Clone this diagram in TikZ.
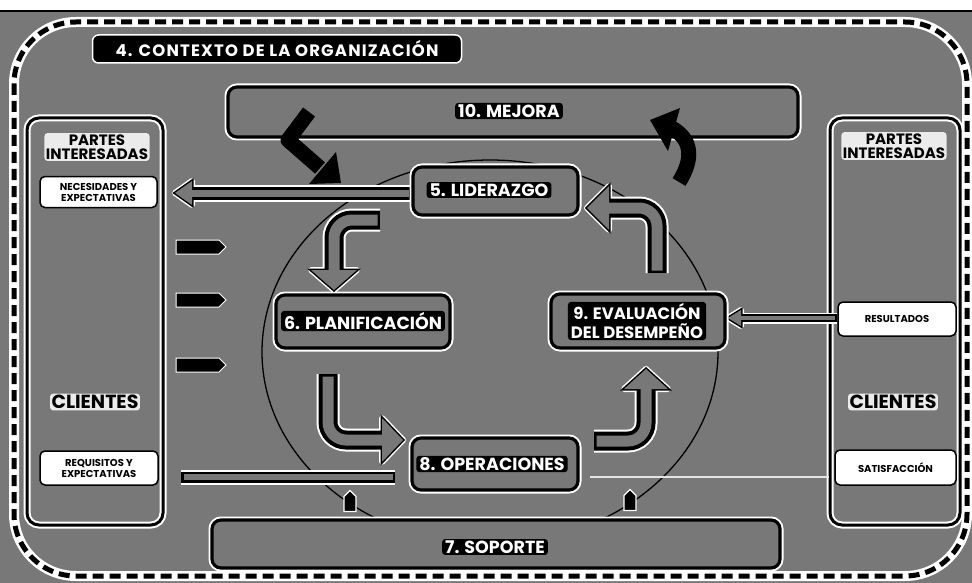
\documentclass[tikz,border=0pt]{standalone}
\usepackage{fontspec}
\setmainfont{Poppins}
\usetikzlibrary{calc,shapes.symbols}
\definecolor{field}{gray}{0.47}

% three-layer hollow arrow: halo, border, body
% #1 halo width, #2 border width, #3 body width, #4 shaft path, #5 head polygon
\newcommand\hollowarrow[5]{%
  \draw[white, line width=#1, rounded corners=18pt] #4;
  \filldraw[white, line width=6pt, line join=round] #5;
  \draw[black, line width=#2, rounded corners=18pt] #4;
  \filldraw[black, line width=3pt, line join=miter] #5;
  \draw[field, line width=#3, rounded corners=18pt, shorten <=2.5pt] #4;
  \fill[field] #5;
}

\tikzset{
  stagebox/.style={draw=black, line width=3.2pt, fill=field, rounded corners=9pt,
    preaction={draw=white, line width=7pt}},
  stagelabel/.style={fill=black, text=white, rounded corners=3pt, inner xsep=3pt,
    inner ysep=1.5pt, align=center, font=\bfseries\fontsize{17.5}{19}\selectfont},
  panel/.style={draw=black, line width=3pt, rounded corners=12pt,
    preaction={draw=white, line width=7pt}},
  notebox/.style={fill=white, draw=black, line width=1.5pt, rounded corners=5pt,
    align=center, font=\bfseries\fontsize{10}{11}\selectfont, inner sep=2pt},
  paneltitle/.style={text=black, fill=white!85!field, rounded corners=3pt, inner sep=1.5pt,
    align=center, font=\bfseries\fontsize{15}{18}\selectfont},
  clientetitle/.style={text=black, fill=white!85!field, rounded corners=3pt, inner sep=1.5pt,
    font=\bfseries\fontsize{19}{20}\selectfont},
  inputtag/.style={signal, signal to=east, fill=black, draw=white, line width=1pt,
    minimum width=50pt, minimum height=14pt, inner sep=0pt},
  uptag/.style={signal, signal to=north, fill=black, draw=white, line width=1.2pt,
    minimum width=12pt, minimum height=15pt, inner sep=0pt},
  solidarrow/.style={black, line width=15pt, line join=round},
}

\begin{document}
\begin{tikzpicture}[x=1pt, y=-1pt]
\useasboundingbox (0,0) rectangle (972,583);

% paper and printed field
\fill[white] (0,0) rectangle (972,583);
\fill[field] (0,11) rectangle (972,583);
\draw[black, line width=1.5pt] (0,11) -- (972,11);

% dashed outer frame of the organisation context
\draw[white, line width=10pt, rounded corners=62pt] (14,22) rectangle (967,576);
\draw[black, line width=5pt, dash pattern=on 11pt off 6pt, rounded corners=62pt] (14,22) rectangle (967,576);

% cycle guide ellipse
\draw[black, line width=1.3pt] (490,352) ellipse [x radius=228, y radius=192];

% context banner
\node[fill=black, text=white, rounded corners=6pt, draw=white, line width=1.5pt,
  minimum width=369pt, minimum height=28pt,
  font=\bfseries\fontsize{16.5}{17}\selectfont\addfontfeature{LetterSpace=7}]
  (ctx) at (277,49) {4. CONTEXTO DE LA ORGANIZACIÓN};

% improvement and support bands
\node[stagebox, minimum width=570pt, minimum height=50pt] (mej) at (513,112) {};
\node[stagelabel] (mejtxt) at (509,111) {10. MEJORA};
\node[stagebox, minimum width=568pt, minimum height=48pt] (sop) at (496,544) {};
\node[stagelabel] (soptxt) at (495,547) {7. SOPORTE};

% side panels
\node[panel, minimum width=136pt, minimum height=407pt] (left) at (95,321.5) {};
\node[panel, minimum width=130pt, minimum height=407pt] (right) at (895,321.5) {};

\node[paneltitle] (lpi) at (97,147) {PARTES\\[-4pt]INTERESADAS};
\node[notebox, minimum width=117pt, minimum height=31pt] (nec) at (98.5,192) {NECESIDADES Y\\EXPECTATIVAS};
\node[clientetitle] (lcl) at (95,402) {CLIENTES};
\node[notebox, minimum width=118pt, minimum height=34pt] (req) at (99,468) {REQUISITOS Y\\EXPECTATIVAS};

\node[paneltitle] (rpi) at (894,146) {PARTES\\[-4pt]INTERESADAS};
\node[notebox, minimum width=118pt, minimum height=34pt] (res) at (897,319) {RESULTADOS};
\node[clientetitle] (rcl) at (893,402) {CLIENTES};
\node[notebox, minimum width=121pt, minimum height=35pt] (sat) at (895.5,467.5) {SATISFACCIÓN};

% input tags beside the left panel
\node[inputtag] (in1) at (197.5,247) {};
\node[inputtag] (in2) at (197.5,300) {};
\node[inputtag] (in3) at (197.5,365) {};

% black improvement arrows
\draw[solidarrow] (309,112) -- (288,140) -- (320,168);
\fill[black] (309,184) -- (336,152) -- (341,183) -- cycle;
\draw[solidarrow] (679,182) .. controls (693,160) and (693,140) .. (672,128);
\fill[black] (650,120) -- (680,108) -- (668,151) -- cycle;

% long arrows to the side panels
\coordinate (l1s) at (411,193);
\coordinate (l1e) at (192,193);
\hollowarrow{17pt}{13pt}{7pt}{(l1s) -- (l1e)}{(192,181) -- (192,205) -- (175,193) -- cycle}
\coordinate (l2s) at (395,477);
\coordinate (l2e) at (181,477);
\draw[white, line width=15pt] (l2s) -- (l2e);
\draw[black, line width=11pt] (l2s) -- (l2e);
\draw[field, line width=5.5pt, shorten <=2.5pt, shorten >=2.5pt] (l2s) -- (l2e);
\coordinate (r1s) at (837,318);
\coordinate (r1e) at (741,318);
\hollowarrow{11pt}{8pt}{3.5pt}{(r1s) -- (r1e)}{(741,310) -- (741,326) -- (728,318) -- cycle}
\draw[white!80!field, line width=1.3pt] (590,477) -- (829,477);

% process stages
\node[stagebox, minimum width=165pt, minimum height=48pt] (lid) at (495.5,191) {};
\node[stagelabel] (lidtxt) at (489,190) {5. LIDERAZGO};
\node[stagebox, minimum width=174pt, minimum height=53pt] (pla) at (363,321.5) {};
\node[stagelabel] (platxt) at (363,321) {6. PLANIFICACIÓN};
\node[stagebox, minimum width=174pt, minimum height=54pt] (eva) at (638,321) {};
\node[stagelabel, font=\bfseries\fontsize{16.5}{19}\selectfont] (evatxt) at (637,321) {9. EVALUACIÓN\\DEL DESEMPEÑO};
\node[stagebox, minimum width=166pt, minimum height=52pt] (ope) at (495,464) {};
\node[stagelabel] (opetxt) at (492,464) {8. OPERACIONES};

% cycle arrows between the stages
\hollowarrow{23pt}{19pt}{11pt}{(380,220) -- (334,220) -- (334,270)}{(311,270) -- (357,270) -- (334,290) -- cycle}
\hollowarrow{23pt}{19pt}{11pt}{(328,374) -- (328,440) -- (382,440)}{(382,418) -- (382,462) -- (403,440) -- cycle}
\hollowarrow{23pt}{19pt}{11pt}{(594,441) -- (646,441) -- (646,389)}{(624,389) -- (668,389) -- (646,369) -- cycle}
\hollowarrow{23pt}{19pt}{11pt}{(657,273) -- (657,208) -- (609,208)}{(609,186) -- (609,230) -- (587,208) -- cycle}

% support markers under operations
\node[uptag] (up1) at (350,504) {};
\node[uptag] (up2) at (630,503) {};

\end{tikzpicture}
\end{document}
